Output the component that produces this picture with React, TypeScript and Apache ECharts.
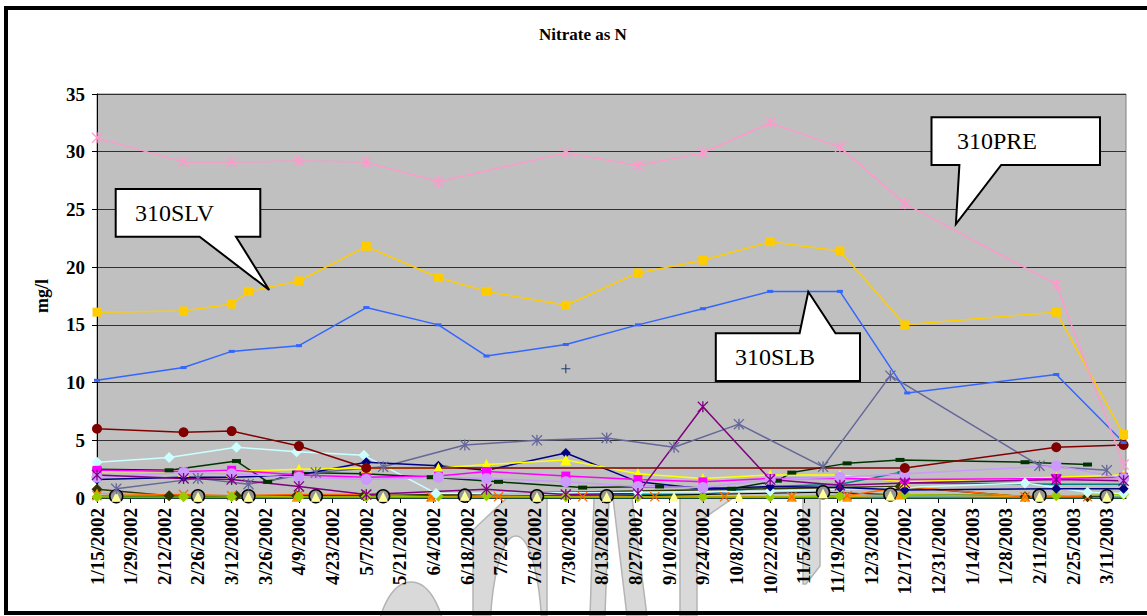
import React, { useEffect, useRef } from "react";
import * as echarts from "echarts";

const SERIF = '"Liberation Serif", "Times New Roman", serif';
const ORIGIN = Date.UTC(2002, 0, 15);
const DAY = 86400000;
const day = (s: string) => {
  const [y, m, d] = s.split("-").map(Number);
  return (Date.UTC(y, m - 1, d) - ORIGIN) / DAY;
};
const dateLabel = (v: number) => {
  const dt = new Date(ORIGIN + v * DAY);
  return `${dt.getUTCMonth() + 1}/${dt.getUTCDate()}/${dt.getUTCFullYear()}`;
};

// Axis settings
const X_MIN = "2002-01-15";
const X_MAX = "2003-03-19";
const X_TICK_DAYS = 14;
const Y_MIN = 0;
const Y_MAX = 35;
const Y_STEP = 5;

type Pt = [string, number];

// Series data (date, mg/l)
const s310PRE: Pt[] = [
  ["2002-01-15", 31.2], ["2002-02-20", 29.1], ["2002-03-12", 29.1], ["2002-04-09", 29.2],
  ["2002-05-07", 29.1], ["2002-06-06", 27.4], ["2002-07-29", 29.9], ["2002-08-28", 28.8],
  ["2002-09-24", 29.9], ["2002-10-22", 32.5], ["2002-11-20", 30.4], ["2002-12-17", 25.5],
  ["2003-02-18", 18.5], ["2003-03-18", 2.9],
];
const s310SLV: Pt[] = [
  ["2002-01-15", 16.1], ["2002-02-20", 16.2], ["2002-03-12", 16.8], ["2002-03-19", 17.9],
  ["2002-04-09", 18.8], ["2002-05-07", 21.8], ["2002-06-06", 19.1], ["2002-06-26", 17.9],
  ["2002-07-29", 16.7], ["2002-08-28", 19.5], ["2002-09-24", 20.6], ["2002-10-22", 22.2],
  ["2002-11-20", 21.4], ["2002-12-17", 15.0], ["2003-02-18", 16.1], ["2003-03-18", 5.5],
];
const s310SLB: Pt[] = [
  ["2002-01-15", 10.2], ["2002-02-20", 11.3], ["2002-03-12", 12.7], ["2002-04-09", 13.2],
  ["2002-05-07", 16.5], ["2002-06-06", 15.0], ["2002-06-26", 12.3], ["2002-07-29", 13.3],
  ["2002-08-28", 15.0], ["2002-09-24", 16.4], ["2002-10-22", 17.9], ["2002-11-20", 17.9],
  ["2002-12-18", 9.1], ["2003-02-18", 10.7], ["2003-03-18", 4.8],
];
const sDarkRed: Pt[] = [
  ["2002-01-15", 6.0], ["2002-02-20", 5.7], ["2002-03-12", 5.8], ["2002-04-09", 4.5],
  ["2002-05-07", 2.6], ["2002-12-17", 2.6], ["2003-02-18", 4.4], ["2003-03-18", 4.6],
];
const sLightCyan: Pt[] = [
  ["2002-01-15", 3.1], ["2002-02-14", 3.5], ["2002-03-14", 4.4], ["2002-04-08", 4.0],
  ["2002-05-06", 3.7], ["2002-06-05", 0.4], ["2002-08-28", 0.5], ["2002-10-22", 0.6],
  ["2002-12-17", 0.9], ["2003-02-05", 1.3], ["2003-03-03", 0.5], ["2003-03-18", 0.4],
];
const sDarkGreen: Pt[] = [
  ["2002-01-15", 2.5], ["2002-02-14", 2.4], ["2002-03-14", 3.2], ["2002-03-27", 1.4],
  ["2002-04-08", 2.2], ["2002-05-06", 2.1], ["2002-06-03", 1.8], ["2002-07-01", 1.4],
  ["2002-08-05", 0.9], ["2002-09-06", 1.0], ["2002-10-06", 0.8], ["2002-10-25", 1.5],
  ["2002-10-31", 2.2], ["2002-11-23", 3.0], ["2002-12-15", 3.3], ["2003-02-05", 3.1],
  ["2003-03-03", 2.9],
];
const sSlate: Pt[] = [
  ["2002-01-23", 0.8], ["2002-02-26", 1.7], ["2002-03-19", 1.2], ["2002-04-16", 2.2],
  ["2002-05-14", 2.7], ["2002-06-17", 4.6], ["2002-07-17", 5.0], ["2002-08-15", 5.2],
  ["2002-09-12", 4.4], ["2002-10-09", 6.4], ["2002-11-13", 2.7], ["2002-12-11", 10.6],
  ["2003-02-11", 2.8], ["2003-03-11", 2.4],
];
const sPurple: Pt[] = [
  ["2002-01-15", 2.0], ["2002-02-20", 1.7], ["2002-03-12", 1.6], ["2002-04-09", 1.0],
  ["2002-05-07", 0.3], ["2002-06-26", 0.75], ["2002-07-29", 0.3], ["2002-08-28", 0.4],
  ["2002-09-24", 7.9], ["2002-10-22", 1.6], ["2002-11-20", 1.1], ["2002-12-17", 1.3],
  ["2003-02-18", 1.6], ["2003-03-18", 1.5],
];
const sYellow: Pt[] = [
  ["2002-01-15", 2.3], ["2002-02-20", 2.3], ["2002-03-12", 2.3], ["2002-04-09", 2.5],
  ["2002-05-07", 2.6], ["2002-06-06", 2.6], ["2002-06-26", 2.9], ["2002-07-29", 3.3],
  ["2002-08-28", 2.1], ["2002-09-24", 1.7], ["2002-10-22", 2.0], ["2002-11-20", 2.0],
  ["2002-12-17", 1.4], ["2003-02-18", 1.8], ["2003-03-18", 2.0],
];
const sNavy: Pt[] = [
  ["2002-01-15", 1.6], ["2002-02-20", 1.8], ["2002-03-12", 1.8], ["2002-04-09", 2.0],
  ["2002-05-07", 3.1], ["2002-06-06", 2.8], ["2002-06-26", 2.4], ["2002-07-29", 3.9],
  ["2002-08-28", 1.4], ["2002-09-24", 0.8], ["2002-10-22", 1.0], ["2002-11-20", 0.9],
  ["2002-12-17", 0.7], ["2003-02-18", 0.8], ["2003-03-18", 0.8],
];
const sMagenta: Pt[] = [
  ["2002-01-15", 2.4], ["2002-02-20", 2.3], ["2002-03-12", 2.4], ["2002-04-09", 2.0],
  ["2002-05-07", 1.8], ["2002-06-06", 1.9], ["2002-06-26", 2.3], ["2002-07-29", 1.9],
  ["2002-08-28", 1.6], ["2002-09-24", 1.4], ["2002-10-22", 1.7], ["2002-11-20", 1.7],
  ["2002-12-17", 1.6], ["2003-02-18", 1.7], ["2003-03-18", 1.8],
];
const sLavender: Pt[] = [
  ["2002-01-15", 1.8], ["2002-02-20", 2.2], ["2002-03-12", 2.1], ["2002-04-09", 1.8],
  ["2002-05-07", 1.6], ["2002-06-06", 1.8], ["2002-06-26", 1.7], ["2002-07-29", 1.4],
  ["2002-08-28", 1.0], ["2002-09-24", 0.9], ["2002-10-22", 1.6], ["2002-11-20", 1.8],
  ["2002-12-17", 2.1], ["2003-02-18", 2.8], ["2003-03-18", 1.7],
];
const sTeal: Pt[] = [
  ["2002-01-15", 0.2], ["2002-02-20", 0.1], ["2002-03-12", 0.1], ["2002-04-09", 0.1],
  ["2002-05-07", 0.1], ["2002-06-06", 0.2], ["2002-07-29", 0.2], ["2002-08-28", 0.3],
  ["2002-09-24", 0.3], ["2002-10-22", 1.0], ["2002-11-20", 1.2], ["2002-12-15", 2.2],
  ["2002-12-17", 1.3], ["2003-02-18", 1.2], ["2003-03-18", 1.2],
];
const sOrangeX: Pt[] = [
  ["2002-01-15", 0.2], ["2002-02-20", 0.3], ["2002-03-12", 0.2], ["2002-04-09", 0.3],
  ["2002-05-07", 0.3], ["2002-06-03", 0.1], ["2002-07-01", 0.1], ["2002-08-05", 0.1],
  ["2002-09-04", 0.1], ["2002-10-03", 0.1], ["2002-10-31", 0.1], ["2002-11-23", 0.2],
  ["2002-12-17", 1.0], ["2003-02-05", 0.1], ["2003-03-03", 0.1],
];
const sOlive: Pt[] = [
  ["2002-01-15", 0.75], ["2002-02-14", 0.2], ["2002-03-14", 0.2], ["2002-04-08", 0.2],
  ["2002-05-06", 0.2], ["2002-12-15", 1.0], ["2003-02-05", 0.1], ["2003-03-03", 0.1],
];
const sGrayCircle: Pt[] = [
  ["2002-01-23", 0.15], ["2002-02-26", 0.15], ["2002-03-19", 0.15], ["2002-04-16", 0.15],
  ["2002-05-14", 0.15], ["2002-06-17", 0.2], ["2002-07-17", 0.15], ["2002-08-15", 0.15],
  ["2002-11-13", 0.5], ["2002-12-11", 0.3], ["2003-02-11", 0.2], ["2003-03-11", 0.15],
];
const sYellowGreen: Pt[] = [
  ["2002-01-15", 0.1], ["2002-02-20", 0.1], ["2002-03-12", 0.1], ["2002-04-09", 0.1],
  ["2002-05-07", 0.1], ["2002-06-06", 0.15], ["2002-06-26", 0.2], ["2002-07-29", 0.1],
  ["2002-08-28", 0.1], ["2002-09-24", 0.1], ["2002-10-22", 0.1], ["2002-11-20", 0.15],
  ["2002-12-17", 0.3], ["2003-02-18", 0.2], ["2003-03-18", 0.3],
];
const sLightYellow: Pt[] = [
  ["2002-01-23", 0.1], ["2002-02-26", 0.1], ["2002-03-19", 0.1], ["2002-04-16", 0.1],
  ["2002-05-14", 0.1], ["2002-06-17", 0.2], ["2002-07-17", 0.1], ["2002-08-15", 0.1],
  ["2002-09-12", 0.1], ["2002-10-09", 0.1], ["2002-11-13", 0.4], ["2002-12-11", 0.2],
  ["2003-02-11", 0.1], ["2003-03-11", 0.1],
];
const sOrangeTri: Pt[] = [
  ["2002-01-15", 0.4], ["2002-04-08", 0.1], ["2002-06-03", 0.1], ["2002-10-31", 0.1],
  ["2002-11-23", 0.1], ["2002-12-15", 0.3], ["2003-02-05", 0.1],
];
const sSeaGreen: Pt[] = [
  ["2002-01-15", 0.05], ["2002-03-12", 0.05], ["2002-05-07", 0.05], ["2002-07-29", 0.05],
  ["2002-09-24", 0.05], ["2002-11-20", 0.05], ["2003-02-18", 0.05], ["2003-03-18", 0.05],
];
const sPlus: Pt[] = [["2002-07-29", 11.2]];

// Marker shapes
const ASTERISK =
  "path://M4.4 0H5.6V10H4.4Z M0 0.8L0.8 0L10 9.2L9.2 10Z M0.8 10L0 9.2L9.2 0L10 0.8Z";
const XMARK = "path://M0 0.9L0.9 0L10 9.1L9.1 10Z M0.9 10L0 9.1L9.1 0L10 0.9Z";
const PLUS = "path://M4.4 0H5.6V10H4.4Z M0 4.4H10V5.6H0Z";

function mk(
  name: string,
  pts: Pt[],
  color: string,
  symbol: string,
  size: number | number[],
  extra: any = {}
) {
  return {
    type: "line",
    name,
    data: pts.map(([d, v]) => [day(d), v]),
    symbol,
    symbolSize: size,
    showSymbol: symbol !== "none",
    lineStyle: { color: extra.lineColor || color, width: extra.lineWidth ?? 1.5 },
    itemStyle: {
      color,
      borderColor: extra.borderColor || color,
      borderWidth: extra.borderWidth ?? 0,
    },
    silent: true,
    clip: true,
    emphasis: { disabled: true },
    z: extra.z ?? 2,
  };
}

const CALLOUTS = [
  {
    text: "310SLV",
    tx: 135,
    ty: 213,
    pts: [[115.7, 189], [260.3, 189], [260.3, 236.7], [236, 236.7], [269.2, 290], [199.6, 236.7], [115.7, 236.7]],
  },
  {
    text: "310PRE",
    tx: 957,
    ty: 141,
    pts: [[931.5, 117.3], [1100, 117.3], [1100, 165], [1001.2, 165], [955.9, 224], [959.4, 165], [931.5, 165]],
  },
  {
    text: "310SLB",
    tx: 735,
    ty: 357,
    pts: [[715.8, 333.3], [799.6, 333.3], [808.3, 291.7], [835.5, 333.3], [860, 333.3], [860, 381], [715.8, 381]],
  },
];

export default function App() {
  const ref = useRef<HTMLDivElement>(null);
  useEffect(() => {
    if (!ref.current) return;
    const chart = echarts.init(ref.current, undefined, { renderer: "svg" });
    const wm = { fill: "#d9d9d9", stroke: "#b4b4b4", lineWidth: 1.5 };
    const graphic: any[] = [
      // watermark fragments (below plot)
      { type: "ellipse", z: -10, shape: { cx: 411, cy: 650, rx: 35, ry: 68 }, style: wm, silent: true },
      { type: "polygon", z: -10, shape: { points: [[473, 616], [473, 530], [507, 498], [547, 498], [547, 616]] }, style: wm, silent: true },
      { type: "ellipse", z: -9, shape: { cx: 516, cy: 640, rx: 26, ry: 104 }, style: { fill: "#fff", stroke: "#b4b4b4", lineWidth: 1.5 }, silent: true },
      { type: "polygon", z: -10, shape: { points: [[594, 498], [609, 498], [605, 616], [590, 616]] }, style: wm, silent: true },
      { type: "polygon", z: -10, shape: { points: [[613, 498], [632, 498], [647, 616], [627, 616]] }, style: wm, silent: true },
      { type: "polygon", z: -10, shape: { points: [[680, 498], [733, 498], [697, 523], [697, 616], [680, 616]] }, style: wm, silent: true },
      { type: "polygon", z: -10, shape: { points: [[803, 498], [820, 498], [820, 566], [806, 584], [803, 584]] }, style: wm, silent: true },
      // outer frame
      { type: "rect", z: 50, shape: { x: 6, y: 8, width: 1150, height: 605 }, style: { fill: "none", stroke: "#000", lineWidth: 4 }, silent: true },
      // title
      {
        type: "text", z: 50, x: 583, y: 34, silent: true,
        style: { text: "Nitrate as N", fill: "#000", font: `bold 17px ${SERIF}`, align: "center", verticalAlign: "middle", textAlign: "center", textVerticalAlign: "middle" },
      },
    ];
    CALLOUTS.forEach((c) => {
      graphic.push({ type: "polygon", z: 100, shape: { points: c.pts }, style: { fill: "#fff", stroke: "#000", lineWidth: 2 }, silent: true });
      graphic.push({
        type: "text", z: 101, x: c.tx, y: c.ty, silent: true,
        style: { text: c.text, fill: "#000", font: `24px ${SERIF}`, align: "left", verticalAlign: "middle", textAlign: "left", textVerticalAlign: "middle" },
      });
    });

    const series = [
      mk("sea", sSeaGreen, "#339966", "none", 0, { lineWidth: 2 }),
      mk("teal", sTeal, "#008080", "rect", [5, 3]),
      mk("olive", sOlive, "#333300", "diamond", 11),
      mk("grayCircle", sGrayCircle, "#969696", "circle", 13, { lineColor: "#000", lineWidth: 1, borderColor: "#000", borderWidth: 1.5 }),
      mk("lightYellow", sLightYellow, "#ffff99", "triangle", 10, { lineWidth: 0 }),
      mk("orangeTri", sOrangeTri, "#ff9900", "triangle", 10, { lineWidth: 1 }),
      mk("orangeX", sOrangeX, "#ff6600", XMARK, 10),
      mk("yellowGreen", sYellowGreen, "#99cc00", "diamond", 11, { lineWidth: 1 }),
      mk("lightCyan", sLightCyan, "#ccffff", "diamond", 11),
      mk("darkGreen", sDarkGreen, "#003300", "rect", [9, 4]),
      mk("slate", sSlate, "#666699", ASTERISK, 11),
      mk("navy", sNavy, "#000080", "diamond", 10),
      mk("yellow", sYellow, "#ffff00", "triangle", 11),
      mk("magenta", sMagenta, "#ff00ff", "rect", 9),
      mk("lavender", sLavender, "#cc99ff", "circle", 11),
      mk("purple", sPurple, "#800080", ASTERISK, 11),
      mk("darkRed", sDarkRed, "#800000", "circle", 10),
      mk("plus", sPlus, "#1f3f6f", PLUS, 9),
      mk("310SLB", s310SLB, "#3366ff", "rect", [6, 3]),
      mk("310SLV", s310SLV, "#ffcc00", "rect", 9),
      mk("310PRE", s310PRE, "#ff99cc", ASTERISK, 11),
    ];

    chart.setOption({
      animation: false,
      backgroundColor: "#fff",
      grid: {
        left: 97,
        right: 21,
        top: 94,
        bottom: 118,
        show: true,
        backgroundColor: "#c0c0c0",
        borderColor: "#808080",
        borderWidth: 1,
        containLabel: false,
        outerBoundsMode: "none",
      },
      xAxis: {
        type: "value",
        min: day(X_MIN),
        max: day(X_MAX),
        interval: X_TICK_DAYS,
        axisLine: { show: true, onZero: false, lineStyle: { color: "#000", width: 1 } },
        axisTick: { show: true, length: 5, lineStyle: { color: "#000" } },
        splitLine: { show: false },
        axisLabel: {
          rotate: 90,
          margin: 10,
          fontSize: 19,
          fontWeight: "bold",
          fontFamily: SERIF,
          color: "#000",
          showMaxLabel: false,
          hideOverlap: false,
          formatter: (v: number) => (Math.round(v) % X_TICK_DAYS === 0 ? dateLabel(v) : ""),
        },
      },
      yAxis: {
        type: "value",
        min: Y_MIN,
        max: Y_MAX,
        interval: Y_STEP,
        name: "mg/l",
        nameLocation: "middle",
        nameGap: 46,
        nameTextStyle: { fontSize: 18, fontWeight: "bold", fontFamily: SERIF, color: "#000" },
        axisLine: { show: true, lineStyle: { color: "#000", width: 1 } },
        axisTick: { show: true, length: 5, lineStyle: { color: "#000" } },
        axisLabel: { margin: 12, fontSize: 19, fontWeight: "bold", fontFamily: SERIF, color: "#000" },
        splitLine: { show: true, lineStyle: { color: "#303030", width: 1 } },
      },
      graphic,
      series,
    });
    return () => chart.dispose();
  }, []);
  return (
    <div
      ref={ref}
      style={{ position: "absolute", left: 0, top: 0, width: 1147, height: 616 }}
    />
  );
}
